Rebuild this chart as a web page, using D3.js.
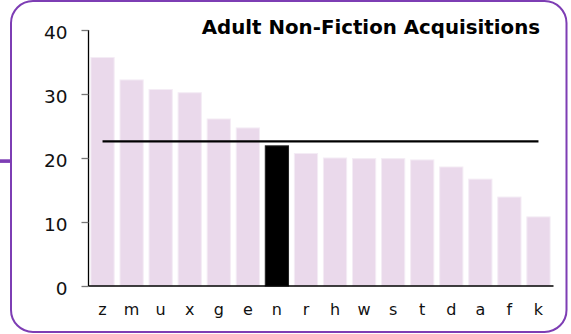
<!DOCTYPE html>
<html>
<head>
<meta charset="utf-8">
<script src="https://cdn.jsdelivr.net/npm/d3@7"></script>
<style>
  html, body { margin: 0; padding: 0; background: #fff; }
  svg { display: block; font-family: "DejaVu Sans", Verdana, sans-serif; }
</style>
</head>
<body>
<svg id="chart" width="571" height="334"></svg>
<script>
// Acquisitions per branch, sorted high to low; "n" is the highlighted branch
const categories = ["z", "m", "u", "x", "g", "e", "n", "r", "h", "w", "s", "t", "d", "a", "f", "k"];
const values = [35.7, 32.2, 30.7, 30.2, 26.1, 24.7, 21.9, 20.7, 20.0, 19.9, 19.9, 19.7, 18.6, 16.7, 13.9, 10.8];
const highlighted = ["n"];
const averageValue = [22.6];
const yTicks = [0, 10, 20, 30, 40];
const titleText = ["Adult Non-Fiction Acquisitions"];

const svg = d3.select("#chart");
const purple = "#7d3db4";
const fontFamily = "DejaVu Sans, Verdana, sans-serif";

// Frame with a small tab on the left edge
svg.append("rect")
  .attr("x", 0).attr("y", 159.3)
  .attr("width", 12).attr("height", 3.6)
  .attr("fill", purple);
svg.append("rect")
  .attr("x", 11).attr("y", 1)
  .attr("width", 555.5).attr("height", 331)
  .attr("rx", 22).attr("ry", 22)
  .attr("fill", "#fff")
  .attr("stroke", purple)
  .attr("stroke-width", 2);

const x = d3.scaleBand()
  .domain(categories)
  .range([88, 553])
  .paddingInner(0.2)
  .paddingOuter(0.1);

const y = d3.scaleLinear()
  .domain([0, 40])
  .range([286, 30]);

// Bars
svg.append("g")
  .selectAll("rect")
  .data(categories.map((c, i) => ({ c, v: values[i] })))
  .join("rect")
  .attr("x", d => x(d.c))
  .attr("y", d => y(d.v))
  .attr("width", x.bandwidth())
  .attr("height", d => y(0) - y(d.v))
  .attr("fill", d => highlighted.includes(d.c) ? "#000" : "#ead9eb")
  .attr("stroke", d => highlighted.includes(d.c) ? "#222" : "#f4ecf5")
  .attr("stroke-width", 1);

// Average line spanning first to last bar centre
const half = x.bandwidth() / 2;
svg.append("line")
  .attr("x1", x(categories[0]) + half)
  .attr("x2", x(categories[categories.length - 1]) + half)
  .attr("y1", y(averageValue[0]))
  .attr("y2", y(averageValue[0]))
  .attr("stroke", "#000")
  .attr("stroke-width", 2.4);

// Y axis
const yAxis = svg.append("g")
  .attr("transform", "translate(88.5,0)")
  .call(d3.axisLeft(y).tickValues(yTicks).tickSize(7).tickPadding(14))
  .attr("font-family", fontFamily);
yAxis.select(".domain").attr("stroke", "#000").attr("stroke-width", 1.3)
  .attr("d", `M0,${y(40)}V${y(0)}`);
yAxis.selectAll(".tick line").attr("stroke", "#777").attr("stroke-width", 1.3);
yAxis.selectAll(".tick text")
  .attr("font-size", 18.5)
  .attr("fill", "#111")
  .attr("dy", "0.45em");

// X axis
const xAxis = svg.append("g")
  .attr("transform", "translate(0,285.5)")
  .call(d3.axisBottom(x).tickSize(0).tickPadding(18))
  .attr("font-family", fontFamily);
xAxis.select(".domain").attr("stroke", "#000").attr("stroke-width", 1.5);
xAxis.selectAll(".tick text")
  .attr("font-size", 16)
  .attr("fill", "#111");

// Title
svg.append("text")
  .attr("x", 540)
  .attr("y", 34)
  .attr("text-anchor", "end")
  .attr("font-weight", "bold")
  .attr("font-size", 19.8)
  .attr("fill", "#000")
  .text(titleText[0]);
</script>
</body>
</html>
